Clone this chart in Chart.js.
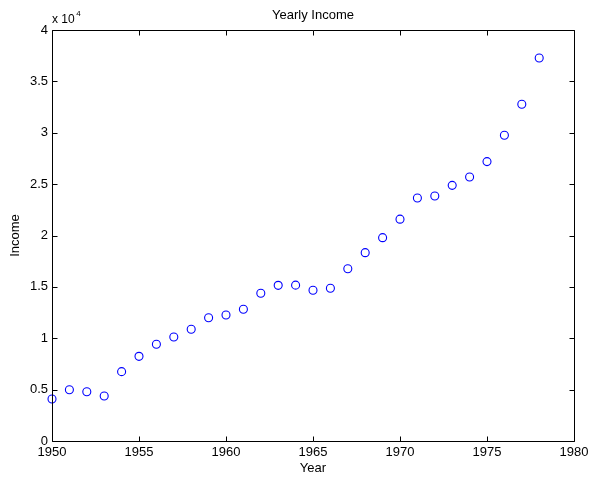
<!DOCTYPE html>
<html>
<head>
<meta charset="utf-8">
<title>Yearly Income</title>
<script src="https://cdn.jsdelivr.net/npm/chart.js@4/dist/chart.umd.min.js"></script>
<style>
  html, body { margin: 0; padding: 0; background: #fff; }
  #wrap { width: 590px; height: 479px; position: relative; }
</style>
</head>
<body>
<div id="wrap"><canvas id="c" width="590" height="479"></canvas></div>
<script>
// Income per year
const years = [1950, 1951, 1952, 1953, 1954, 1955, 1956, 1957, 1958, 1959,
               1960, 1961, 1962, 1963, 1964, 1965, 1966, 1967, 1968, 1969,
               1970, 1971, 1972, 1973, 1974, 1975, 1976, 1977, 1978];
const income = [4090, 4990, 4800, 4380, 6750, 8240, 9410, 10120, 10870, 12000,
                12260, 12820, 14380, 15150, 15170, 14670, 14860, 16770, 18330, 19790,
                21590, 23650, 23840, 24880, 25690, 27190, 29750, 32770, 37280];

// Axis tick values
const xTicks = [1950, 1955, 1960, 1965, 1970, 1975, 1980];
const yTicks = [0, 5000, 10000, 15000, 20000, 25000, 30000, 35000, 40000];
const yExponent = 4;

const FONT = 'Liberation Sans, Arial, Helvetica, sans-serif';

// Boxed axes with inward tick marks on all four sides, plus title and exponent label
const boxAxes = {
  id: 'boxAxes',
  afterDraw(chart) {
    const { ctx, chartArea: a, scales } = chart;
    const L = a.left + 0.5, R = a.right + 0.5, T = a.top + 0.5, B = a.bottom + 0.5;
    const tl = 5;
    ctx.save();
    ctx.strokeStyle = '#000';
    ctx.lineWidth = 1;
    ctx.beginPath();
    ctx.rect(L, T, R - L, B - T);
    xTicks.forEach(v => {
      const px = Math.round(scales.x.getPixelForValue(v)) + 0.5;
      ctx.moveTo(px, B); ctx.lineTo(px, B - tl);
      ctx.moveTo(px, T); ctx.lineTo(px, T + tl);
    });
    yTicks.forEach(v => {
      const py = Math.round(scales.y.getPixelForValue(v)) + 0.5;
      ctx.moveTo(L, py); ctx.lineTo(L + tl, py);
      ctx.moveTo(R, py); ctx.lineTo(R - tl, py);
    });
    ctx.stroke();

    ctx.fillStyle = '#000';
    ctx.textAlign = 'center';
    ctx.textBaseline = 'alphabetic';
    ctx.font = '13px ' + FONT;
    ctx.fillText('Yearly Income', (a.left + a.right) / 2, 19);

    ctx.textAlign = 'left';
    ctx.font = '12px ' + FONT;
    ctx.fillText('x 10', a.left, 23);
    const w = ctx.measureText('x 10').width;
    ctx.font = '8px ' + FONT;
    ctx.fillText(String(yExponent), a.left + w + 1.5, 16);
    ctx.restore();
  }
};

new Chart(document.getElementById('c'), {
  type: 'scatter',
  data: {
    datasets: [{
      label: 'Income',
      data: years.map((y, i) => ({ x: y, y: income[i] })),
      showLine: false,
      pointStyle: 'circle',
      pointRadius: 4,
      pointHoverRadius: 4,
      pointBorderWidth: 1.1,
      pointBorderColor: '#0000ff',
      pointBackgroundColor: 'rgba(0,0,0,0)',
      clip: false
    }]
  },
  options: {
    responsive: false,
    animation: false,
    events: [],
    layout: { padding: { top: 30, right: 16, left: 0, bottom: 0 } },
    plugins: {
      legend: { display: false },
      title: { display: false },
      tooltip: { enabled: false }
    },
    scales: {
      x: {
        type: 'linear',
        position: 'bottom',
        min: 1950,
        max: 1980,
        afterBuildTicks: s => { s.ticks = xTicks.map(v => ({ value: v })); },
        afterFit: s => { s.height = 38; s.paddingLeft = 0; s.paddingRight = 0; },
        grid: { display: false, drawTicks: false },
        border: { display: false },
        ticks: {
          padding: 4,
          color: '#000',
          font: { family: FONT, size: 13 },
          maxRotation: 0,
          autoSkip: false,
          callback: v => String(v)
        },
        title: {
          display: true,
          text: 'Year',
          color: '#000',
          font: { family: FONT, size: 13 },
          padding: { top: 0, bottom: 3 }
        }
      },
      y: {
        type: 'linear',
        position: 'left',
        min: 0,
        max: 40000,
        afterBuildTicks: s => { s.ticks = yTicks.map(v => ({ value: v })); },
        afterFit: s => { s.width = 52; s.paddingTop = 0; s.paddingBottom = 0; },
        grid: { display: false, drawTicks: false },
        border: { display: false },
        ticks: {
          padding: 4,
          color: '#000',
          font: { family: FONT, size: 13 },
          autoSkip: false,
          callback: v => String(v / Math.pow(10, yExponent))
        },
        title: {
          display: true,
          text: 'Income',
          color: '#000',
          font: { family: FONT, size: 13 },
          padding: { top: 8, bottom: 0 }
        }
      }
    }
  },
  plugins: [boxAxes]
});
</script>
</body>
</html>
